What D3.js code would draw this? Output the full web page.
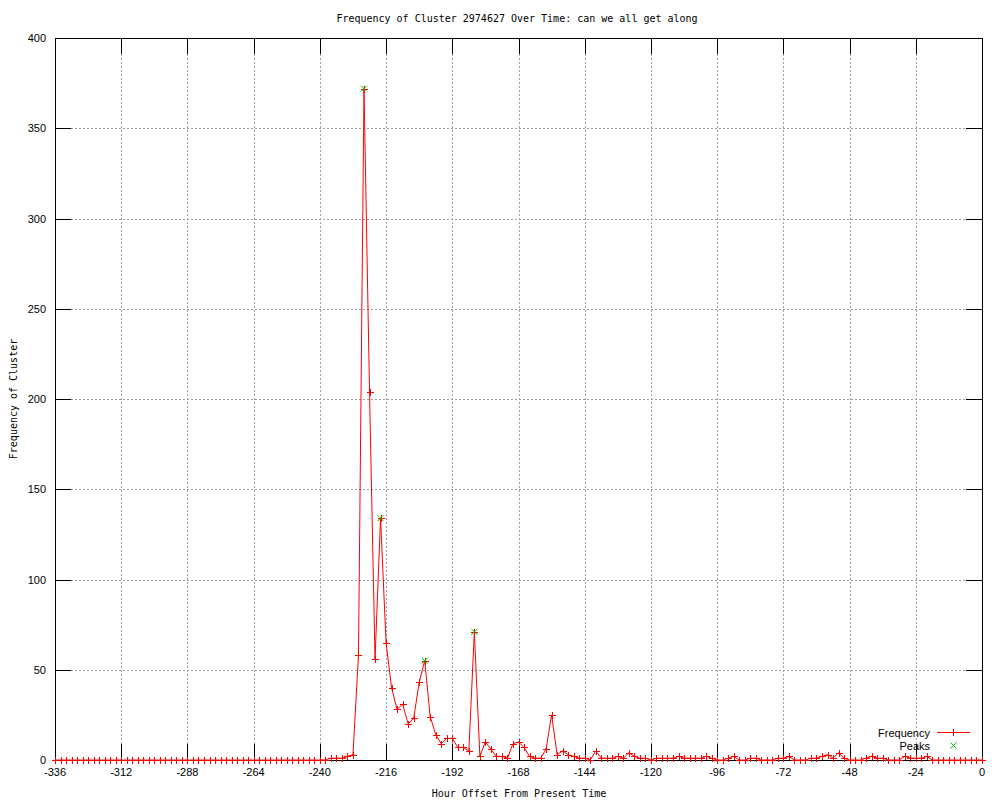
<!DOCTYPE html>
<html>
<head>
<meta charset="utf-8">
<script src="https://cdn.jsdelivr.net/npm/d3@7"></script>
<style>
  body { margin: 0; background: #fff; }
  .title, .axis-label { font-family: "DejaVu Sans Mono", monospace; font-size: 10px; }
  .tick-label, .legend-label { font-family: "Liberation Sans", Arial, sans-serif; font-size: 11px; }
</style>
</head>
<body>
<script>
/**********************
 ***    Constants   ***
 **********************/

const SCREEN = { width: 1000, height: 800, left: 55, right: 982, top: 38, bottom: 760 };
const TICK_LEN = 16;

const TITLE_TEXT = 'Frequency of Cluster 2974627 Over Time: can we all get along';
const X_LABEL = 'Hour Offset From Present Time';
const Y_LABEL = 'Frequency of Cluster';

// 2-hour bins from -336 to 0
const hours = d3.range(-336, 1, 2);
const counts = [
    0,0,0,0,0,0,0,0,0,0, 0,0,0,0,0,0,0,0,0,0,
    0,0,0,0,0,0,0,0,0,0, 0,0,0,0,0,0,0,0,0,0,
    0,0,0,0,0,0,0,0,0,0,
    1,1,1,2,3, 58,372,204,56,134, 65,40,28,31,20, 23,43,55,24,14,
    9,12,12,7,7, 5,71,2,10,6, 2,2,1,9,10, 7,2,1,1,6,
    25,3,5,3,2, 1,1,0,5,1, 1,1,2,1,4, 2,1,1,0,1,
    1,1,1,2,1, 1,1,1,2,1, 0,0,1,2,0, 0,1,1,0,0,
    0,1,1,2,0, 0,0,1,1,2, 3,1,4,1,0, 0,0,1,2,1,
    1,0,0,0,2, 1,1,1,2,
    0,0,0,0,0,0,0,0,0,0
];

const peakHours = [-224, -218, -202, -184];
const peakCounts = [372, 134, 55, 71];

const xTicks = d3.range(-336, 1, 24);
const yTicks = d3.range(0, 401, 50);

const freqData = hours.map((h, i) => ({ h: h, v: counts[i] }));
const peakData = peakHours.map((h, i) => ({ h: h, v: peakCounts[i] }));

/**********************
 ***     Scales     ***
 **********************/

const x = d3.scaleLinear().domain([-336, 0]).range([SCREEN.left, SCREEN.right]);
const y = d3.scaleLinear().domain([0, 400]).range([SCREEN.bottom, SCREEN.top]);
const px = v => Math.round(v) + 0.5;

const svg = d3.select('body').append('svg')
    .attr('width', SCREEN.width)
    .attr('height', SCREEN.height);

// grid
const grid = svg.append('g')
    .attr('stroke', '#a0a0a0')
    .attr('stroke-dasharray', '2,2')
    .attr('shape-rendering', 'crispEdges');

grid.selectAll('line.gx')
    .data(xTicks.slice(1, -1))
    .enter().append('line')
        .attr('x1', d => px(x(d))).attr('x2', d => px(x(d)))
        .attr('y1', SCREEN.top).attr('y2', SCREEN.bottom);

grid.selectAll('line.gy')
    .data(yTicks.slice(1, -1))
    .enter().append('line')
        .attr('y1', d => px(y(d))).attr('y2', d => px(y(d)))
        .attr('x1', SCREEN.left).attr('x2', SCREEN.right);

// ticks (inward, mirrored)
const ticks = svg.append('g')
    .attr('stroke', '#000')
    .attr('shape-rendering', 'crispEdges');

xTicks.forEach(t => {
    ticks.append('line')
        .attr('x1', px(x(t))).attr('x2', px(x(t)))
        .attr('y1', SCREEN.bottom).attr('y2', SCREEN.bottom - TICK_LEN);
    ticks.append('line')
        .attr('x1', px(x(t))).attr('x2', px(x(t)))
        .attr('y1', SCREEN.top).attr('y2', SCREEN.top + TICK_LEN);
});
yTicks.forEach(t => {
    ticks.append('line')
        .attr('y1', px(y(t))).attr('y2', px(y(t)))
        .attr('x1', SCREEN.left).attr('x2', SCREEN.left + TICK_LEN);
    ticks.append('line')
        .attr('y1', px(y(t))).attr('y2', px(y(t)))
        .attr('x1', SCREEN.right).attr('x2', SCREEN.right - TICK_LEN);
});

// tick labels
svg.append('g').selectAll('text')
    .data(xTicks)
    .enter().append('text')
        .attr('class', 'tick-label')
        .attr('x', d => x(d))
        .attr('y', SCREEN.bottom + 16)
        .attr('text-anchor', 'middle')
        .text(d => String(d));

svg.append('g').selectAll('text')
    .data(yTicks)
    .enter().append('text')
        .attr('class', 'tick-label')
        .attr('x', SCREEN.left - 9)
        .attr('y', d => y(d) + 4)
        .attr('text-anchor', 'end')
        .text(d => String(d));

// border
svg.append('rect')
    .attr('x', SCREEN.left + 0.5)
    .attr('y', SCREEN.top + 0.5)
    .attr('width', SCREEN.right - SCREEN.left)
    .attr('height', SCREEN.bottom - SCREEN.top)
    .attr('fill', 'none')
    .attr('stroke', '#000')
    .attr('shape-rendering', 'crispEdges');

/**********************
 ***     Series     ***
 **********************/

const line = d3.line().x(d => x(d.h)).y(d => y(d.v));

svg.append('path')
    .datum(freqData)
    .attr('d', line)
    .attr('fill', 'none')
    .attr('stroke', '#ff0000')
    .attr('stroke-width', 1);

const plusPath = 'M-3.5,0H3.5M0,-3.5V3.5';
const crossPath = 'M-3,-3L3,3M-3,3L3,-3';

svg.append('g').selectAll('path')
    .data(freqData)
    .enter().append('path')
        .attr('transform', d => `translate(${px(x(d.h))},${px(y(d.v))})`)
        .attr('d', plusPath)
        .attr('stroke', '#ff0000')
        .attr('shape-rendering', 'crispEdges');

svg.append('g').selectAll('path')
    .data(peakData)
    .enter().append('path')
        .attr('transform', d => `translate(${x(d.h)},${y(d.v)})`)
        .attr('d', crossPath)
        .attr('stroke', '#00c000');

/**********************
 ***   Text/legend  ***
 **********************/

svg.append('text')
    .attr('class', 'title')
    .attr('x', 517).attr('y', 22)
    .attr('text-anchor', 'middle')
    .text(TITLE_TEXT);

svg.append('text')
    .attr('class', 'axis-label')
    .attr('x', 519).attr('y', 797)
    .attr('text-anchor', 'middle')
    .text(X_LABEL);

svg.append('text')
    .attr('class', 'axis-label')
    .attr('transform', 'translate(17,399) rotate(-90)')
    .attr('text-anchor', 'middle')
    .text(Y_LABEL);

const legend = svg.append('g');
legend.append('text')
    .attr('class', 'legend-label')
    .attr('x', 930).attr('y', 737)
    .attr('text-anchor', 'end')
    .text('Frequency');
legend.append('line')
    .attr('x1', 937).attr('x2', 970)
    .attr('y1', 732.5).attr('y2', 732.5)
    .attr('stroke', '#ff0000');
legend.append('path')
    .attr('transform', 'translate(953.5,732.5)')
    .attr('d', plusPath)
    .attr('stroke', '#ff0000')
    .attr('shape-rendering', 'crispEdges');
legend.append('text')
    .attr('class', 'legend-label')
    .attr('x', 930).attr('y', 750)
    .attr('text-anchor', 'end')
    .text('Peaks');
legend.append('path')
    .attr('transform', 'translate(953.5,745.5)')
    .attr('d', crossPath)
    .attr('stroke', '#00c000');
</script>
</body>
</html>
